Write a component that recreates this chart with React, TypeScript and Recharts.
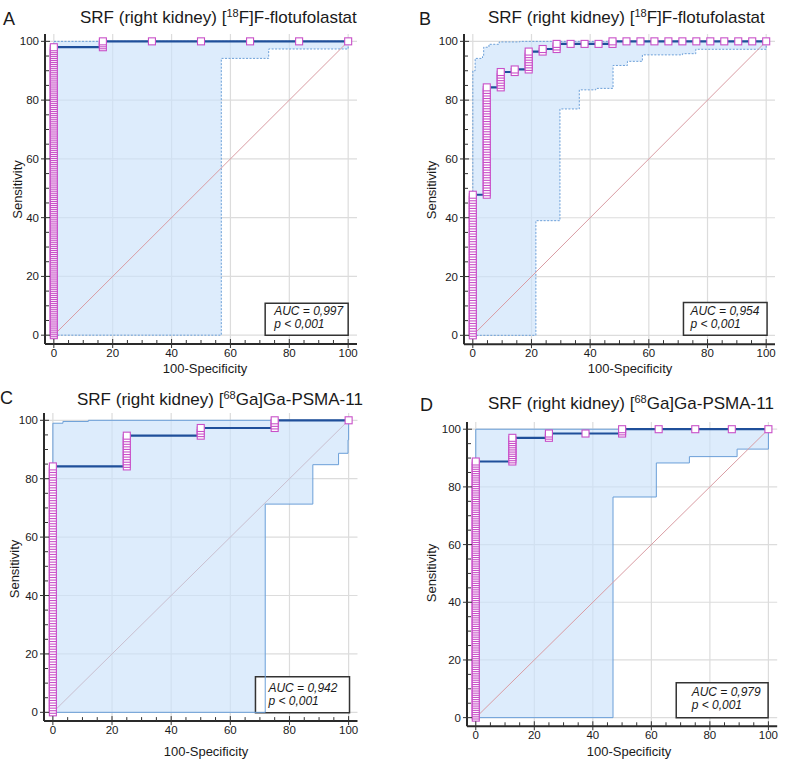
import React from "react";
import {
  ComposedChart,
  XAxis,
  YAxis,
  CartesianGrid,
  Area,
  Line,
  Scatter,
  ReferenceArea,
} from "recharts";

// counts: negatives, positives and the true positives
// reached at each false positive count (0..nNeg)
const negA = 6;
const posA = 150;
const tpA = [147, 150, 150, 150, 150, 150, 150];

const negB = 21;
const posB = 115;
const tpB = [55, 97, 103, 104, 111, 112, 114, 114, 114, 114, 115, 115, 115, 115, 115, 115, 115, 115, 115, 115, 115, 115];

const negC = 4;
const posC = 114;
const tpC = [96, 108, 111, 114, 114];

const negD = 8;
const posD = 134;
const tpD = [119, 130, 132, 132, 134, 134, 134, 134, 134];

// 95% CI band, step breakpoints [x, y]
const upperA = [[0, 0], [0, 100], [100, 100]];
const lowerA = [[0, 0], [56.9, 94.2], [73, 97.4], [100, 100]];

const upperB = [[0, 0], [0, 90], [0.8, 94.2], [3.3, 94.8], [3.7, 98], [5.5, 99], [9, 99.8], [16, 100], [100, 100]];
const lowerB = [[0, 0], [21.5, 39], [29.7, 77], [36.3, 83.5], [41.9, 84], [47.8, 91.8], [52.7, 93.2], [57.8, 95.4], [71.5, 95.8], [76, 97.3], [100, 100]];

const upperC = [[0, 0], [0, 99], [3.4, 99.6], [12, 100], [100, 100]];
const lowerC = [[0, 0], [71.8, 71.3], [87.9, 84.8], [96.6, 88.7], [99.8, 93.3], [100, 100]];

const upperD = [[0, 0], [0, 100], [100, 100]];
const lowerD = [[0, 0], [46.9, 76.5], [61.7, 88.3], [73, 90.5], [89.3, 93.1], [100, 100]];

const aucLabels = ["AUC = 0,997", "AUC = 0,954", "AUC = 0,942", "AUC = 0,979"];
const pLabel = "p < 0,001";

const tickValues = [0, 5, 10, 15, 20, 25, 30, 35, 40, 45, 50, 55, 60, 65, 70, 75, 80, 85, 90, 95, 100];
const gridValues = [0, 20, 40, 60, 80, 100];

const FONT = '"Liberation Sans", Arial, sans-serif';

const rocCurve = (nNeg: number, nPos: number, tops: number[]) => {
  const pts = [{ x: 0, y: 0 }];
  tops.forEach((tp, k) => {
    const x = (k / nNeg) * 100;
    const prev = k === 0 ? 0 : tops[k - 1];
    pts.push({ x, y: (prev / nPos) * 100 });
    pts.push({ x, y: (tp / nPos) * 100 });
  });
  return pts;
};

const rocMarkers = (nNeg: number, nPos: number, tops: number[]) => {
  const pts: { x: number; y: number }[] = [];
  tops.forEach((tp, k) => {
    const start = k === 0 ? 0 : tops[k - 1];
    for (let t = start; t <= tp; t++) {
      pts.push({ x: (k / nNeg) * 100, y: (t / nPos) * 100 });
    }
  });
  return pts;
};

const stepLine = (steps: number[][]) => {
  const pts = [{ x: steps[0][0], y: steps[0][1] }];
  for (let i = 1; i < steps.length; i++) {
    pts.push({ x: steps[i][0], y: steps[i - 1][1] });
    pts.push({ x: steps[i][0], y: steps[i][1] });
  }
  return pts;
};

const bandRows = (lower: number[][], upper: number[][]) => {
  const xs = Array.from(new Set([...lower, ...upper].map((p) => p[0]))).sort((a, b) => a - b);
  const before = (s: number[][], x: number) => {
    let v = s[0][1];
    s.forEach(([sx, sy]) => { if (sx < x) v = sy; });
    return v;
  };
  const after = (s: number[][], x: number) => {
    let v = s[0][1];
    s.forEach(([sx, sy]) => { if (sx <= x) v = sy; });
    return v;
  };
  const rows: { x: number; band: number[] }[] = [];
  xs.forEach((x) => {
    rows.push({ x, band: [before(lower, x), before(upper, x)] });
    rows.push({ x, band: [after(lower, x), after(upper, x)] });
  });
  return rows;
};

const diag = [{ x: 0, y: 0 }, { x: 100, y: 100 }];

const XTick = (props: any) => {
  const { x, y, payload } = props;
  const v = payload.value;
  const major = v % 20 === 0;
  return (
    <g>
      <line x1={x} x2={x} y1={major ? y + 4 : y} y2={y - (major ? 5 : 4)} stroke="#333" strokeWidth={1} />
      {major && (
        <text x={x} y={y + 13} textAnchor="middle" fontSize={11.5} fontFamily={FONT} fill="#1a1a1a">
          {v}
        </text>
      )}
    </g>
  );
};

const YTick = (props: any) => {
  const { x, y, payload } = props;
  const v = payload.value;
  const major = v % 20 === 0;
  return (
    <g>
      <line x1={major ? x - 4 : x} x2={x + (major ? 5 : 4)} y1={y} y2={y} stroke="#333" strokeWidth={1} />
      {major && (
        <text x={x - 6} y={y + 4} textAnchor="end" fontSize={11.5} fontFamily={FONT} fill="#1a1a1a">
          {v}
        </text>
      )}
    </g>
  );
};

const SquareMarker = (props: any) => (
  <rect x={props.cx - 3.5} y={props.cy - 3.5} width={7} height={7} fill="#fff" stroke="#c850c8" strokeWidth={1.1} />
);

const panels = [
  {
    L: 45, T: 34, W: 312, H: 310,
    nNeg: negA, nPos: posA, tops: tpA, upper: upperA, lower: lowerA,
    auc: aucLabels[0], box: [71.8, 100, 0, 10.9], tx: 9, ty: 12,
    dash: "2 1.5", diagColor: "#d99ca3",
  },
  {
    L: 463.5, T: 34.35, W: 311, H: 310.15,
    nNeg: negB, nPos: posB, tops: tpB, upper: upperB, lower: lowerB,
    auc: aucLabels[1], box: [71.8, 100.3, 0, 11.2], tx: 7, ty: 13,
    dash: "2 1.5", diagColor: "#d99ca3",
  },
  {
    L: 44.4, T: 413, W: 313.5, H: 308.1,
    nNeg: negC, nPos: posC, tops: tpC, upper: upperC, lower: lowerC,
    auc: aucLabels[2], box: [68.5, 100.3, -0.1, 12.2], tx: 13, ty: 15,
    dash: undefined, diagColor: "#c9bfcf",
  },
  {
    L: 466.9, T: 422.1, W: 310.2, H: 304.3,
    nNeg: negD, nPos: posD, tops: tpD, upper: upperD, lower: lowerD,
    auc: aucLabels[3], box: [68.5, 99.9, 0, 12.1], tx: 15.5, ty: 13.3,
    dash: undefined, diagColor: "#d99ca3",
  },
];

const RocPanel = ({ p }: { p: any }) => {
  const band = bandRows(p.lower, p.upper);
  const curve = rocCurve(p.nNeg, p.nPos, p.tops);
  const markers = rocMarkers(p.nNeg, p.nPos, p.tops);
  const aucText = (props: any) => {
    const vb = props.viewBox || props;
    return (
      <g fontFamily={FONT} fontStyle="italic" fontSize={12} fill="#1a1a1a">
        <text x={vb.x + p.tx} y={vb.y + p.ty}>{p.auc}</text>
        <text x={vb.x + p.tx} y={vb.y + p.ty + 13}>{pLabel}</text>
      </g>
    );
  };
  return (
    <div style={{ position: "absolute", left: p.L - 45, top: p.T - 35 }}>
      <ComposedChart width={p.W + 57} height={p.H + 65} margin={{ top: 35, right: 12, left: 0, bottom: 0 }}>
        <CartesianGrid stroke="#dcdcdc" strokeWidth={1.2} horizontalValues={gridValues} verticalValues={gridValues} />
        <XAxis
          type="number"
          dataKey="x"
          domain={[-3, 103]}
          allowDataOverflow
          ticks={tickValues}
          interval={0}
          tickLine={false}
          tickSize={0}
          tickMargin={0}
          tick={<XTick />}
          axisLine={{ stroke: "#2a2a2a", strokeWidth: 2 }}
          height={30}
        />
        <YAxis
          type="number"
          domain={[-3, 102.5]}
          allowDataOverflow
          ticks={tickValues}
          interval={0}
          tickLine={false}
          tickSize={0}
          tickMargin={0}
          tick={<YTick />}
          axisLine={{ stroke: "#2a2a2a", strokeWidth: 2 }}
          width={45}
        />
        <Area data={band} dataKey="band" type="linear" stroke="none" fill="#cbe2fa" fillOpacity={0.65} isAnimationActive={false} />
        <Line data={stepLine(p.upper)} dataKey="y" type="linear" stroke="#6a9fd8" strokeWidth={1} strokeDasharray={p.dash} dot={false} isAnimationActive={false} />
        <Line data={stepLine(p.lower)} dataKey="y" type="linear" stroke="#6a9fd8" strokeWidth={1} strokeDasharray={p.dash} dot={false} isAnimationActive={false} />
        <Line data={diag} dataKey="y" type="linear" stroke={p.diagColor} strokeWidth={1} dot={false} isAnimationActive={false} />
        <Line data={curve} dataKey="y" type="linear" stroke="#1f4f9a" strokeWidth={2.2} dot={false} isAnimationActive={false} />
        <Scatter data={markers} dataKey="y" shape={SquareMarker} isAnimationActive={false} />
        <ReferenceArea
          x1={p.box[0]}
          x2={p.box[1]}
          y1={p.box[2]}
          y2={p.box[3]}
          fill="#fff"
          fillOpacity={1}
          stroke="#333"
          strokeWidth={1.5}
          ifOverflow="visible"
          label={aucText}
        />
      </ComposedChart>
    </div>
  );
};

const texts = [
  { letter: "A", lx: 3, ly: 25, tx: 80, ty: 23, sup: "18", pre: "SRF (right kidney) [", post: "F]F-flotufolastat", xcx: 205, xly: 373, ylx: 21.5, ylcy: 189.5 },
  { letter: "B", lx: 419, ly: 25, tx: 488, ty: 23, sup: "18", pre: "SRF (right kidney) [", post: "F]F-flotufolastat", xcx: 630, xly: 373, ylx: 435.6, ylcy: 190 },
  { letter: "C", lx: 0, ly: 404, tx: 77, ty: 405, sup: "68", pre: "SRF (right kidney) [", post: "Ga]Ga-PSMA-11", xcx: 206, xly: 756, ylx: 18.6, ylcy: 569 },
  { letter: "D", lx: 420, ly: 410.5, tx: 488, ty: 409, sup: "68", pre: "SRF (right kidney) [", post: "Ga]Ga-PSMA-11", xcx: 629, xly: 756, ylx: 435.6, ylcy: 573 },
];

export default function App() {
  return (
    <div style={{ position: "absolute", left: 0, top: 0, width: 794, height: 762, background: "#fff", overflow: "hidden" }}>
      {panels.map((p, i) => (
        <RocPanel key={i} p={p} />
      ))}
      <svg width={794} height={762} style={{ position: "absolute", left: 0, top: 0, pointerEvents: "none" }} fontFamily={FONT} fill="#1a1a1a">
        {texts.map((t) => (
          <g key={t.letter}>
            <text x={t.lx} y={t.ly} fontSize={18}>{t.letter}</text>
            <text x={t.tx} y={t.ty} fontSize={17}>
              <tspan>{t.pre}</tspan>
              <tspan fontSize={11} dy={-6}>{t.sup}</tspan>
              <tspan dy={6}>{t.post}</tspan>
            </text>
            <text x={t.xcx} y={t.xly} fontSize={13} textAnchor="middle">100-Specificity</text>
            <text x={t.ylx} y={t.ylcy} fontSize={13} textAnchor="middle" transform={`rotate(-90 ${t.ylx} ${t.ylcy})`}>
              Sensitivity
            </text>
          </g>
        ))}
      </svg>
    </div>
  );
}
